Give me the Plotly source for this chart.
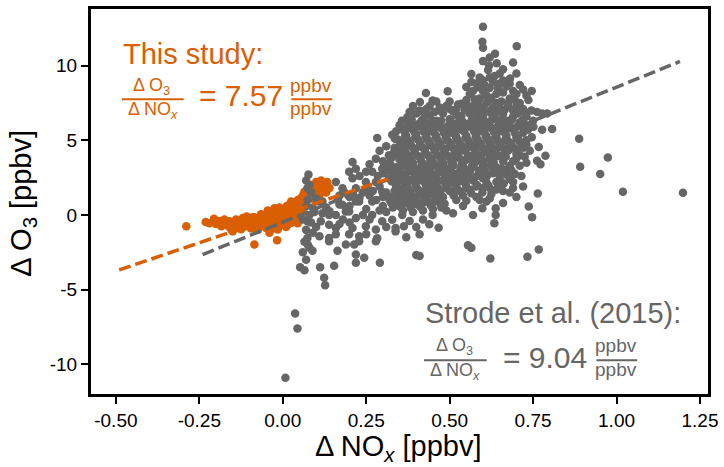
import plotly.graph_objects as go

# ---------------- data ----------------
x_ticks = [-0.50, -0.25, 0.00, 0.25, 0.50, 0.75, 1.00, 1.25]
x_tick_labels = ["-0.50", "-0.25", "0.00", "0.25", "0.50", "0.75", "1.00", "1.25"]
y_ticks = [-10, -5, 0, 5, 10]
y_tick_labels = ["-10", "-5", "0", "5", "10"]

# This study (orange) : (dNOx, dO3)
this_study_points = [
    (-0.289, -0.76), (-0.231, -0.48), (-0.220, -0.55), (-0.206, -0.25), (-0.200, -0.60),
    (-0.190, -0.40), (-0.184, -0.76), (-0.175, -0.30), (-0.170, -0.50), (-0.165, -0.70),
    (-0.160, -0.80), (-0.159, -0.43), (-0.154, -0.98), (-0.150, -1.10), (-0.145, -0.60),
    (-0.140, -0.30), (-0.139, -0.88), (-0.135, -0.70), (-0.130, -0.43), (-0.130, -0.60),
    (-0.125, -0.95), (-0.120, -0.20), (-0.118, -0.80), (-0.115, -0.45), (-0.110, -0.65),
    (-0.108, -0.10), (-0.105, -0.76), (-0.100, -0.30), (-0.100, -0.55), (-0.095, -0.90),
    (-0.095, -0.50), (-0.090, -0.15), (-0.087, -0.88), (-0.085, -1.98), (-0.085, -0.15),
    (-0.080, -0.60), (-0.078, -0.30), (-0.075, -1.00), (-0.070, -0.43), (-0.070, -0.80),
    (-0.068, -0.70), (-0.065, 0.05), (-0.060, -0.45), (-0.060, -0.10), (-0.055, -0.65),
    (-0.050, -0.88), (-0.050, -0.20), (-0.045, 0.30), (-0.045, -0.45), (-0.040, 0.12),
    (-0.040, -0.60), (-0.040, -1.20), (-0.035, -0.30), (-0.035, 0.05), (-0.030, -0.90),
    (-0.030, 0.10), (-0.025, 0.45), (-0.025, -0.50), (-0.020, 0.20), (-0.020, -0.75),
    (-0.017, -1.70), (-0.015, -0.98), (-0.015, -0.30), (-0.010, 0.50), (-0.010, -0.70),
    (-0.005, -0.10), (-0.005, 0.20), (-0.005, -0.40), (0.000, 0.00), (0.000, -0.50),
    (0.005, 0.30), (0.008, 0.40), (0.010, -0.80), (0.012, 0.60), (0.015, -0.30),
    (0.018, -0.60), (0.020, 0.10), (0.020, 0.68), (0.025, 0.90), (0.028, -0.50),
    (0.030, -0.20), (0.030, 0.55), (0.035, 0.40), (0.040, 0.78), (0.040, 0.00),
    (0.045, 1.00), (0.045, 0.25), (0.045, -0.55), (0.050, 0.50), (0.050, -0.30),
    (0.055, 1.12), (0.055, 0.80), (0.060, 1.30), (0.060, 0.20), (0.060, 0.70),
    (0.065, 1.56), (0.070, 0.90), (0.075, 1.80), (0.080, 1.30), (0.085, 2.00),
    (0.090, 1.10), (0.094, 1.78), (0.100, 1.50), (0.100, 2.20), (0.105, 1.90),
    (0.110, 1.30), (0.115, 2.30), (0.120, 1.67), (0.125, 2.00), (0.130, 1.50),
    (0.133, 2.20), (0.140, 1.80),
]

# Strode et al. (2015) (grey) : (dNOx, dO3)
strode_outliers = [
    (0.008, -10.9), (0.037, -6.6), (0.044, -7.6),
    (0.807, 5.75), (0.888, 5.10), (0.891, 3.23), (0.974, 3.84), (0.951, 2.74),
    (1.019, 1.55), (1.199, 1.48), (0.764, 1.44),
]
strode_left = [
    (0.052, -3.5), (0.065, -3.7), (0.060, -2.5), (0.080, -2.2), (0.089, -2.4),
    (0.074, -1.54), (0.070, -3.0), (0.075, -2.0), (0.065, -1.8), (0.070, -1.0),
    (0.090, -1.2), (0.100, -0.8), (0.074, -0.43), (0.085, -0.5), (0.060, -0.3),
    (0.080, 0.0), (0.095, 0.2), (0.090, 0.5), (0.070, 0.6), (0.075, 1.0),
    (0.100, 1.1), (0.085, 1.5), (0.074, 1.78), (0.080, 2.0), (0.070, 2.3), (0.077, 2.7),
    (0.112, -3.5), (0.124, -4.2), (0.127, -4.7), (0.154, -3.4), (0.164, -2.4),
    (0.219, -2.65), (0.219, -3.2), (0.244, -2.87), (0.291, -3.2), (0.214, -1.98),
    (0.229, -1.43), (0.199, -1.3), (0.159, -1.3), (0.139, -1.54), (0.110, -1.43),
    (0.279, -1.76), (0.139, -1.76), (0.189, -1.98), (0.229, -1.76), (0.249, -0.76),
    (0.279, -0.98), (0.298, -0.43), (0.219, -0.2), (0.268, 0.0), (0.139, -0.65),
    (0.114, -0.43), (0.159, -0.88), (0.209, -0.88), (0.180, -0.3), (0.119, 0.12),
    (0.159, 0.0), (0.139, 0.0), (0.189, 0.23), (0.199, 0.23), (0.140, 0.25),
    (0.130, 0.5), (0.170, 0.7), (0.179, 0.68), (0.119, 0.9), (0.109, 0.9),
    (0.219, 0.9), (0.229, 0.9), (0.268, 0.9), (0.250, 0.4), (0.300, 0.6),
    (0.283, -1.56), (0.338, -0.88), (0.328, -0.32), (0.363, -0.76), (0.338, -1.1),
    (0.358, 0.0), (0.370, -1.5), (0.410, -1.3),
    (0.159, 2.2), (0.179, 1.78), (0.219, 1.78), (0.209, 2.45), (0.249, 2.2),
    (0.279, 2.2), (0.240, 1.5), (0.200, 1.2), (0.260, 1.3), (0.280, 1.0),
    (0.170, 1.3), (0.219, 3.1), (0.199, 2.9), (0.209, 3.55), (0.268, 2.9),
    (0.279, 3.77), (0.298, 3.1), (0.283, 5.15), (0.298, 1.56), (0.318, 2.45),
    (0.300, 2.8), (0.260, 3.4), (0.290, 4.3), (0.310, 4.6), (0.318, 4.0),
    (0.165, 1.0), (0.185, 1.5), (0.210, 1.4), (0.230, 1.15), (0.250, 1.75),
    (0.270, 1.6), (0.290, 1.9), (0.310, 1.5), (0.230, 2.6), (0.250, 2.9),
    (0.285, 2.6), (0.310, 3.2), (0.300, 3.6), (0.200, 0.6), (0.240, 0.0),
    (0.260, -0.3), (0.310, 0.2), (0.310, -0.8), (0.290, 0.3), (0.170, -0.6),
    (0.250, -1.3), (0.200, -0.5), (0.320, 1.0), (0.300, 1.2),
]
strode_core = [
    (0.600, 12.6), (0.598, 11.6), (0.600, 11.2), (0.701, 11.3), (0.636, 10.8),
    (0.620, 10.55), (0.600, 10.3), (0.618, 10.0), (0.641, 10.15), (0.690, 10.2),
    (0.565, 9.43), (0.615, 9.7), (0.650, 9.47), (0.700, 9.47), (0.681, 9.14),
    (0.590, 9.2), (0.635, 9.3), (0.660, 9.75),
    (0.550, 8.57), (0.620, 8.5), (0.650, 8.8), (0.746, 8.3), (0.730, 8.0),
    (0.580, 8.8), (0.600, 8.3), (0.670, 8.6), (0.690, 8.3), (0.710, 8.7),
    (0.494, 8.28), (0.429, 8.17), (0.640, 8.1), (0.560, 8.1),
    (0.449, 7.67), (0.411, 7.56), (0.535, 7.45), (0.736, 7.7), (0.470, 7.2),
    (0.500, 7.6), (0.550, 7.7), (0.570, 7.3), (0.590, 7.8), (0.610, 7.5),
    (0.630, 7.2), (0.655, 7.6), (0.680, 7.8), (0.700, 7.3), (0.720, 7.1),
    (0.600, 7.05), (0.520, 7.1), (0.430, 7.1), (0.390, 7.3),
    (0.373, 6.54), (0.400, 6.8), (0.420, 6.4), (0.440, 6.7), (0.460, 6.3),
    (0.480, 6.8), (0.500, 6.4), (0.520, 6.7), (0.540, 6.2), (0.560, 6.8),
    (0.575, 6.4), (0.590, 6.7), (0.610, 6.2), (0.625, 6.8), (0.640, 6.4),
    (0.660, 6.75), (0.675, 6.3), (0.690, 6.6), (0.710, 6.2), (0.730, 6.6),
    (0.762, 6.9), (0.777, 6.8), (0.792, 6.8), (0.750, 6.3), (0.390, 6.1),
    (0.455, 6.0), (0.530, 6.0), (0.600, 6.0), (0.650, 6.0),
    (0.328, 5.37), (0.358, 5.77), (0.340, 5.6), (0.370, 5.3), (0.385, 5.8),
    (0.400, 5.4), (0.415, 5.9), (0.430, 5.2), (0.445, 5.6), (0.460, 5.3),
    (0.475, 5.8), (0.490, 5.1), (0.505, 5.5), (0.520, 5.2), (0.535, 5.7),
    (0.550, 5.3), (0.565, 5.9), (0.580, 5.2), (0.595, 5.6), (0.610, 5.3),
    (0.625, 5.8), (0.640, 5.2), (0.655, 5.6), (0.670, 5.3), (0.685, 5.8),
    (0.700, 5.2), (0.720, 5.5), (0.751, 5.9), (0.777, 5.7), (0.746, 5.2), (0.730, 5.0),
    (0.358, 4.88), (0.368, 4.2), (0.335, 4.5), (0.350, 4.3), (0.380, 4.7),
    (0.395, 4.2), (0.410, 4.6), (0.425, 4.1), (0.440, 4.8), (0.455, 4.3),
    (0.470, 4.7), (0.485, 4.1), (0.500, 4.6), (0.515, 4.2), (0.530, 4.8),
    (0.545, 4.3), (0.560, 4.6), (0.575, 4.1), (0.590, 4.7), (0.605, 4.2),
    (0.620, 4.6), (0.635, 4.1), (0.650, 4.7), (0.665, 4.3), (0.680, 4.6),
    (0.700, 4.1), (0.720, 4.5), (0.767, 4.55), (0.787, 3.97), (0.740, 4.3),
    (0.320, 3.5), (0.340, 3.2), (0.355, 3.8), (0.370, 3.3), (0.385, 3.7),
    (0.400, 3.1), (0.415, 3.6), (0.430, 3.2), (0.445, 3.8), (0.460, 3.3),
    (0.475, 3.7), (0.490, 3.1), (0.505, 3.5), (0.520, 3.9), (0.535, 3.3),
    (0.550, 3.7), (0.565, 3.2), (0.580, 3.6), (0.600, 3.3), (0.620, 3.8),
    (0.640, 3.2), (0.660, 3.6), (0.680, 3.3), (0.700, 3.8), (0.762, 3.63),
    (0.772, 3.4), (0.730, 3.5),
    (0.330, 2.9), (0.345, 2.3), (0.360, 2.7), (0.375, 2.2), (0.390, 2.9),
    (0.405, 2.4), (0.420, 2.8), (0.435, 2.2), (0.450, 2.7), (0.465, 2.3),
    (0.480, 2.9), (0.495, 2.4), (0.510, 2.8), (0.525, 2.2), (0.540, 2.6),
    (0.555, 2.9), (0.570, 2.3), (0.590, 2.7), (0.610, 2.2), (0.630, 2.8),
    (0.650, 2.4), (0.670, 2.7), (0.690, 2.2), (0.715, 2.6),
    (0.348, 1.78), (0.320, 1.2), (0.335, 1.6), (0.360, 1.3), (0.375, 1.8),
    (0.390, 1.2), (0.405, 1.7), (0.420, 1.3), (0.435, 1.9), (0.450, 1.4),
    (0.465, 1.8), (0.480, 1.2), (0.500, 1.6), (0.520, 1.9), (0.540, 1.3),
    (0.560, 1.7), (0.580, 1.2), (0.600, 1.8), (0.625, 1.4), (0.650, 1.9),
    (0.680, 1.5), (0.700, 1.2), (0.720, 1.9),
    (0.330, 0.5), (0.345, 0.9), (0.360, 0.3), (0.375, 0.8), (0.390, 0.2),
    (0.405, 0.7), (0.420, 0.3), (0.435, 0.9), (0.450, 0.4), (0.470, 0.8),
    (0.490, 0.3), (0.510, 0.11), (0.540, 0.6), (0.570, 0.0), (0.598, 0.45),
    (0.638, 0.45), (0.737, 0.56), (0.610, 0.9), (0.660, 0.8),
    (0.380, -0.4), (0.400, -0.8), (0.420, -0.3), (0.439, -0.63), (0.449, 0.0),
    (0.467, -0.86), (0.638, 0.0), (0.634, -0.56), (0.747, -0.16),
    (0.400, -2.69), (0.410, -2.75), (0.555, -2.03), (0.565, -2.2), (0.622, -2.92),
    (0.733, -2.8), (0.767, -2.31),
]
strode_fill = [
    (0.338, 1.00), (0.352, 0.55), (0.368, 1.05), (0.383, 0.50), (0.398, 1.00),
    (0.412, 0.55), (0.428, 1.10), (0.443, 0.65), (0.458, 1.05), (0.475, 0.50),
    (0.338, 2.05), (0.352, 1.55), (0.367, 2.00), (0.383, 1.50), (0.397, 2.10),
    (0.413, 1.55), (0.428, 2.05), (0.442, 1.60), (0.457, 2.10), (0.472, 1.55),
    (0.488, 2.05), (0.505, 2.15), (0.512, 1.30), (0.530, 1.60), (0.548, 2.05),
    (0.565, 1.45), (0.582, 2.00), (0.598, 1.50), (0.615, 2.00), (0.640, 1.70),
    (0.662, 2.10), (0.690, 1.80),
    (0.315, 3.00), (0.337, 2.55), (0.352, 3.05), (0.367, 2.55), (0.382, 3.10),
    (0.397, 2.60), (0.412, 3.15), (0.427, 2.60), (0.442, 3.10), (0.457, 2.55),
    (0.472, 3.05), (0.487, 2.60), (0.502, 3.10), (0.517, 2.55), (0.532, 3.05),
    (0.547, 2.50), (0.562, 3.00), (0.578, 2.55), (0.595, 3.05), (0.612, 2.60),
    (0.630, 3.10), (0.648, 2.75), (0.670, 3.05), (0.695, 2.75),
    (0.327, 3.85), (0.343, 4.05), (0.360, 3.55), (0.375, 4.00), (0.390, 3.50),
    (0.405, 3.95), (0.420, 3.45), (0.435, 4.00), (0.450, 3.55), (0.465, 4.00),
    (0.480, 3.50), (0.495, 3.95), (0.510, 3.45), (0.525, 4.05), (0.540, 3.55),
    (0.555, 4.00), (0.570, 3.50), (0.585, 4.05), (0.602, 3.60), (0.618, 4.10),
    (0.632, 3.55), (0.648, 3.95), (0.668, 3.90), (0.690, 3.60), (0.710, 4.00),
    (0.345, 5.05), (0.362, 4.55), (0.375, 5.00), (0.390, 4.50), (0.405, 5.05),
    (0.420, 4.50), (0.435, 5.00), (0.450, 4.55), (0.465, 5.00), (0.480, 4.45),
    (0.495, 4.95), (0.510, 4.50), (0.525, 5.00), (0.540, 4.55), (0.555, 5.00),
    (0.570, 4.50), (0.585, 5.00), (0.600, 4.50), (0.615, 5.00), (0.630, 4.50),
    (0.645, 4.95), (0.660, 4.50), (0.675, 4.95), (0.692, 4.50), (0.710, 4.90),
    (0.350, 6.00), (0.365, 5.55), (0.378, 6.10), (0.393, 5.60), (0.408, 6.10),
    (0.422, 5.60), (0.437, 6.10), (0.452, 5.55), (0.468, 6.05), (0.483, 5.50),
    (0.498, 6.00), (0.512, 5.60), (0.527, 6.20), (0.543, 5.60), (0.558, 6.10),
    (0.573, 5.60), (0.588, 6.10), (0.603, 5.60), (0.618, 6.00), (0.633, 5.55),
    (0.648, 6.05), (0.663, 5.60), (0.678, 6.00), (0.695, 5.50), (0.715, 5.95),
    (0.735, 5.70),
    (0.455, 6.90), (0.490, 7.30), (0.510, 6.95), (0.535, 6.65), (0.545, 7.05),
    (0.565, 7.00), (0.580, 6.90), (0.600, 6.60), (0.615, 6.95), (0.640, 6.90),
    (0.648, 7.30), (0.665, 7.05), (0.690, 7.00), (0.705, 6.80),
    (0.570, 8.30), (0.585, 7.60), (0.610, 8.00), (0.625, 7.85), (0.660, 8.20),
    (0.675, 7.50), (0.695, 7.70), (0.630, 8.90), (0.605, 8.70),
]
strode_fill_2 = [
    (0.325, 0.80), (0.343, 1.25), (0.360, 0.75), (0.376, 1.30), (0.390, 0.70),
    (0.405, 1.25), (0.420, 0.80), (0.436, 1.35), (0.450, 0.85), (0.466, 1.30),
    (0.485, 0.75), (0.520, 1.00), (0.550, 0.95), (0.590, 1.00), (0.620, 1.10),
    (0.326, 2.25), (0.340, 1.80), (0.356, 2.30), (0.370, 1.75), (0.386, 2.35),
    (0.400, 1.85), (0.416, 2.30), (0.430, 1.80), (0.446, 2.35), (0.460, 1.85),
    (0.476, 2.30), (0.490, 1.80), (0.506, 2.40), (0.520, 1.75), (0.535, 2.30),
    (0.550, 1.80), (0.566, 2.40), (0.580, 1.90), (0.600, 2.45), (0.620, 1.80),
    (0.640, 2.20), (0.660, 1.60), (0.680, 2.40),
    (0.325, 3.30), (0.345, 2.90), (0.360, 3.40), (0.376, 2.90), (0.390, 3.40),
    (0.406, 2.85), (0.420, 3.35), (0.436, 2.90), (0.450, 3.35), (0.466, 2.85),
    (0.480, 3.30), (0.496, 2.80), (0.510, 3.30), (0.526, 2.75), (0.540, 3.25),
    (0.556, 2.75), (0.572, 3.30), (0.588, 2.95), (0.606, 2.90), (0.622, 3.30),
    (0.655, 3.10), (0.685, 3.00), (0.710, 3.30),
    (0.334, 4.25), (0.350, 3.70), (0.366, 4.25), (0.380, 3.75), (0.396, 4.40),
    (0.412, 3.85), (0.426, 4.40), (0.442, 3.70), (0.456, 4.45), (0.472, 3.85),
    (0.488, 4.40), (0.502, 3.80), (0.518, 4.40), (0.532, 3.75), (0.548, 4.40),
    (0.562, 3.85), (0.578, 4.40), (0.594, 3.85), (0.610, 4.40), (0.625, 3.85),
    (0.640, 4.40), (0.658, 3.85), (0.675, 4.30), (0.700, 4.40), (0.725, 3.90),
    (0.336, 5.10), (0.352, 4.70), (0.366, 5.20), (0.383, 4.75), (0.397, 5.20),
    (0.412, 4.80), (0.428, 5.25), (0.442, 4.75), (0.458, 5.20), (0.473, 4.75),
    (0.488, 5.30), (0.503, 4.80), (0.518, 5.30), (0.532, 4.75), (0.548, 5.20),
    (0.563, 4.80), (0.578, 5.25), (0.593, 4.80), (0.608, 5.25), (0.623, 4.80),
    (0.638, 5.25), (0.653, 4.80), (0.668, 5.10), (0.685, 4.80), (0.705, 5.10),
    (0.730, 4.70),
    (0.357, 6.30), (0.372, 5.85), (0.386, 6.40), (0.401, 5.90), (0.416, 6.30),
    (0.430, 5.80), (0.445, 6.35), (0.460, 5.90), (0.475, 6.30), (0.490, 5.85),
    (0.505, 6.20), (0.520, 5.85), (0.535, 6.40), (0.550, 5.85), (0.566, 6.35),
    (0.580, 5.90), (0.596, 6.35), (0.611, 5.90), (0.626, 6.35), (0.641, 5.85),
    (0.656, 6.35), (0.670, 5.90), (0.686, 6.35), (0.702, 5.90), (0.720, 6.35),
    (0.740, 6.00),
    (0.380, 6.90), (0.410, 7.00), (0.425, 6.75), (0.440, 7.30), (0.460, 7.60),
    (0.475, 6.95), (0.500, 7.10), (0.525, 7.40), (0.555, 7.30), (0.575, 7.75),
    (0.590, 7.30), (0.620, 7.70), (0.640, 7.50), (0.660, 6.90), (0.675, 7.30),
    (0.710, 7.50), (0.725, 6.90), (0.745, 7.00),
    (0.585, 8.55), (0.600, 9.00), (0.620, 9.20), (0.645, 8.50), (0.660, 9.00),
    (0.680, 8.80), (0.700, 8.10), (0.720, 8.40), (0.565, 8.90),
]

# regression lines
this_study_slope = 7.57
this_study_intercept = 0.03
this_study_fit_x = [-0.49, 0.325]
strode_slope = 9.04
strode_intercept = -0.48
strode_fit_x = [-0.24, 1.19]

# ---------------- style ----------------
ORANGE = "#d95f02"
GRAY = "#666666"
FONT = "Liberation Sans"

strode_points = strode_outliers + strode_left + strode_core + strode_fill + strode_fill_2
ts_x = [p[0] for p in this_study_points]
ts_y = [p[1] for p in this_study_points]
st_x = [p[0] for p in strode_points]
st_y = [p[1] for p in strode_points]

fig = go.Figure()
fig.add_trace(go.Scatter(x=ts_x, y=ts_y, mode="markers", name="This study",
                         marker=dict(color=ORANGE, size=8.5, line=dict(width=0))))
fig.add_trace(go.Scatter(x=st_x, y=st_y, mode="markers", name="Strode et al. (2015)",
                         marker=dict(color=GRAY, size=8.5, line=dict(width=0))))
fig.add_trace(go.Scatter(x=strode_fit_x,
                         y=[strode_slope * x + strode_intercept for x in strode_fit_x],
                         mode="lines", line=dict(color=GRAY, width=3.5, dash="12px,5px")))
fig.add_trace(go.Scatter(x=this_study_fit_x,
                         y=[this_study_slope * x + this_study_intercept for x in this_study_fit_x],
                         mode="lines", line=dict(color=ORANGE, width=3.5, dash="12px,5px")))

# plot area in pixels
L, R, T, B = 91, 710, 6, 394
W, H = 724, 467


def px(x):
    return (x - L) / (R - L)


def py(y):
    return (B - y) / (B - T)


def ann(text, x, y, size, color, xanchor="left", angle=0):
    return dict(text=text, x=px(x), y=py(y), xref="paper", yref="paper",
                xanchor=xanchor, yanchor="middle", showarrow=False, textangle=angle,
                font=dict(family=FONT, size=size, color=color))


annotations = [
    # orange
    ann("This study:", 121, 51, 29, ORANGE),
    ann("Δ O<sub>3</sub>", 152, 84, 18, ORANGE, "center"),
    ann("Δ NO<sub><i>x</i></sub>", 153, 108, 18, ORANGE, "center"),
    ann("= 7.57", 197, 93, 30, ORANGE),
    ann("ppbv", 312, 83, 19, ORANGE, "center"),
    ann("ppbv", 312, 106, 19, ORANGE, "center"),
    # grey
    ann("Strode et al. (2015):", 424, 312, 29, GRAY),
    ann("Δ O<sub>3</sub>", 456, 346, 18, GRAY, "center"),
    ann("Δ NO<sub><i>x</i></sub>", 456, 371, 18, GRAY, "center"),
    ann("= 9.04", 502, 357, 30, GRAY),
    ann("ppbv", 618, 345, 19, GRAY, "center"),
    ann("ppbv", 618, 369, 19, GRAY, "center"),
    # axis titles
    ann("Δ NO<sub><i>x</i></sub> [ppbv]", 399, 448, 29, "black", "center"),
    ann("Δ O<sub>3</sub> [ppbv]", 23, 202, 29, "black", "center", -90),
]

shapes = [
    dict(type="line", xref="paper", yref="paper", x0=px(122), x1=px(184), y0=py(97), y1=py(97),
         line=dict(color=ORANGE, width=2)),
    dict(type="line", xref="paper", yref="paper", x0=px(292), x1=px(333), y0=py(97), y1=py(97),
         line=dict(color=ORANGE, width=2)),
    dict(type="line", xref="paper", yref="paper", x0=px(425), x1=px(488), y0=py(360), y1=py(360),
         line=dict(color=GRAY, width=2)),
    dict(type="line", xref="paper", yref="paper", x0=px(598), x1=px(639), y0=py(360), y1=py(360),
         line=dict(color=GRAY, width=2)),
]

axis_common = dict(showline=True, linecolor="black", linewidth=3, mirror=True,
                   ticks="outside", ticklen=7, tickwidth=2, tickcolor="black",
                   showgrid=False, zeroline=False,
                   tickfont=dict(family=FONT, size=19, color="black"))

fig.update_layout(
    width=W, height=H,
    margin=dict(l=L, r=W - R, t=T, b=H - B),
    paper_bgcolor="white", plot_bgcolor="white",
    showlegend=False,
    xaxis=dict(range=[-0.5745, 1.274], tickvals=x_ticks, ticktext=x_tick_labels, **axis_common),
    yaxis=dict(range=[-11.99, 13.79], tickvals=y_ticks, ticktext=y_tick_labels, **axis_common),
    annotations=annotations,
    shapes=shapes,
)

fig.write_html("out.html", config={"displayModeBar": False},
               post_script="document.body.style.margin='0px';")
